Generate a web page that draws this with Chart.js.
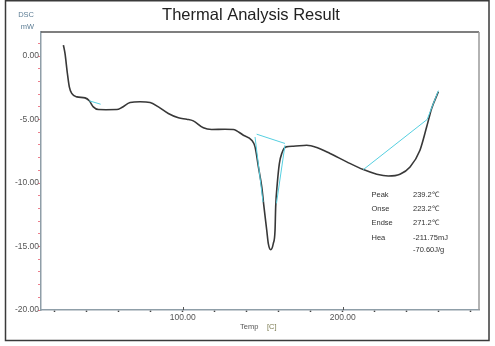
<!DOCTYPE html>
<html><head><meta charset="utf-8">
<script src="https://cdn.jsdelivr.net/npm/chart.js@4/dist/chart.umd.min.js"></script>
<style>html,body{margin:0;padding:0;background:#fff}canvas{display:block}</style>
</head><body>
<canvas id="c" width="495" height="346"></canvas>
<script>
// ---- data ----
const temps = [25.4, 26.4, 27.9, 29.1, 30.6, 33.8, 38.9, 41.6, 44.1, 47.3, 52, 58.8, 61.9, 67.1, 73.3, 79.6, 84.8, 91, 97.3, 102.5, 106.6, 112.9, 118.1, 126.4, 131.6, 137.9, 143.1, 145.2, 147.3, 149.4, 150.8, 152.5, 153.5, 155, 156.6, 157.7, 158.1, 159.1, 160.4, 161.9, 164.6, 169.1, 177.5, 183.8, 192.1, 202.5, 212.9, 221.3, 228.5, 235.8, 242.1, 248.3, 252.5, 255.6, 259.8];
const dsc = [0.87, 0.21, -1.37, -2.42, -2.94, -3.21, -3.29, -3.52, -4.0, -4.21, -4.22, -4.21, -4.05, -3.65, -3.6, -3.65, -4.0, -4.52, -4.86, -4.97, -5.1, -5.65, -5.78, -5.76, -5.78, -6.23, -6.62, -7.15, -8.73, -10.3, -11.9, -13.7, -14.77, -15.25, -14.77, -13.72, -11.88, -10.04, -8.46, -7.67, -7.15, -7.1, -7.02, -7.2, -7.67, -8.33, -8.94, -9.3, -9.44, -9.3, -8.73, -7.41, -5.57, -4.13, -2.81];

const cyanA_T = [41.6, 48.7],           cyanA_V = [-3.52, -3.79];
const cyanB_T = [146.2, 163.9],         cyanB_V = [-6.15, -6.88];
const cyanC_T = [145.2, 150.2],         cyanC_V = [-6.37, -11.5];
const cyanD_T = [163.9, 158.6],         cyanD_V = [-7.02, -11.6];
const cyanE_T = [212.9, 252.8, 259.8],  cyanE_V = [-8.94, -4.99, -2.72];

const xTickValues = [20, 40, 60, 80, 100, 120, 140, 160, 180, 200, 220, 240, 260, 280];
const xLabelValues = [100, 200];
const yTickValues = [-20, -19, -18, -17, -16, -15, -14, -13, -12, -11, -10, -9, -8, -7, -6, -5, -4, -3, -2, -1, 0, 1];
const yLabelValues = [-20, -15, -10, -5, 0];

const resultLabels = ["Peak", "Onse", "Endse", "Hea", ""];
const resultValues = ["239.2\u2103", "223.2\u2103", "271.2\u2103", "-211.75mJ", "-70.60J/g"];

const titleText = "Thermal Analysis Result";
const yUnit = ["DSC", "mW"];
const xTitle = ["Temp", "[C]"];

const pts = (T, V) => T.map((t, i) => ({x: t, y: V[i]}));
const cyan = '#55cfe0';
const cyanSet = (T, V) => ({data: pts(T, V), borderColor: cyan, borderWidth: 1, pointRadius: 0, showLine: true, tension: 0});

const decor = {
  id: 'decor',
  afterDraw(chart) {
    const ctx = chart.ctx, a = chart.chartArea;
    const xs = chart.scales.x, ys = chart.scales.y;
    ctx.save();
    // outer frame
    ctx.strokeStyle = '#3a3a3a'; ctx.lineWidth = 1.5;
    ctx.strokeRect(5.5, 0.75, 483.5, 339.75);
    // plot top and right border
    ctx.strokeStyle = '#555'; ctx.lineWidth = 1.5;
    ctx.beginPath(); ctx.moveTo(a.left, a.top); ctx.lineTo(a.right, a.top); ctx.stroke();
    ctx.strokeStyle = '#9a9a9a'; ctx.lineWidth = 1.5;
    ctx.beginPath(); ctx.moveTo(a.right, a.top); ctx.lineTo(a.right, a.bottom); ctx.stroke();
    // major x tick bumps
    ctx.strokeStyle = '#555'; ctx.lineWidth = 1;
    xLabelValues.forEach(v => {
      const px = Math.round(xs.getPixelForValue(v)) + 0.5;
      ctx.beginPath(); ctx.moveTo(px, a.bottom); ctx.lineTo(px, a.bottom - 3); ctx.stroke();
    });
    // title
    ctx.fillStyle = '#222';
    ctx.font = '16.5px "Liberation Sans", Arial, sans-serif';
    ctx.textAlign = 'center'; ctx.textBaseline = 'middle';
    ctx.fillText(titleText, 251, 15.5);
    // y unit
    ctx.fillStyle = '#5d7d95';
    ctx.font = '7.5px "Liberation Sans", Arial, sans-serif';
    ctx.textAlign = 'right';
    ctx.fillText(yUnit[0], 34, 15);
    ctx.fillText(yUnit[1], 34, 27);
    // x title
    ctx.textAlign = 'left';
    ctx.fillStyle = '#555';
    ctx.font = '7.5px "Liberation Sans", Arial, sans-serif';
    ctx.fillText(xTitle[0], 240, 327);
    ctx.fillStyle = '#7a7a50';
    ctx.fillText(xTitle[1], 267, 327);
    // results box
    ctx.fillStyle = '#333';
    ctx.font = '7.5px "Liberation Sans", Arial, sans-serif';
    const rowY = [195, 209, 223, 237.5, 249.5];
    resultLabels.forEach((t, i) => { if (t) ctx.fillText(t, 371.5, rowY[i]); });
    resultValues.forEach((t, i) => ctx.fillText(t, 413, rowY[i]));
    ctx.restore();
  }
};

new Chart(document.getElementById('c'), {
  type: 'scatter',
  data: {
    datasets: [
      cyanSet(cyanA_T, cyanA_V),
      cyanSet(cyanB_T, cyanB_V),
      cyanSet(cyanC_T, cyanC_V),
      cyanSet(cyanD_T, cyanD_V),
      cyanSet(cyanE_T, cyanE_V),
      {data: pts(temps, dsc), borderColor: '#383838', borderWidth: 1.6, pointRadius: 0, showLine: true, cubicInterpolationMode: 'monotone'}
    ]
  },
  options: {
    responsive: false, animation: false, devicePixelRatio: 1,
    layout: {padding: {top: 32, left: 0, right: 16, bottom: 0}},
    plugins: {legend: {display: false}, tooltip: {enabled: false}, title: {display: false}},
    scales: {
      x: {
        type: 'linear', min: 11.4, max: 285.2,
        afterBuildTicks: s => { s.ticks = xTickValues.map(v => ({value: v})); },
        afterFit: s => { s.height = 36; },
        grid: {drawOnChartArea: false, drawTicks: true, tickLength: 2, tickColor: '#444', tickWidth: 1.5},
        border: {display: true, color: '#8f9ea8', width: 1.5},
        ticks: {autoSkip: false, maxRotation: 0, padding: 1, color: '#555',
          font: {size: 8.5, family: '"Liberation Sans", Arial, sans-serif'},
          callback: v => xLabelValues.includes(v) ? v.toFixed(2) : ''}
      },
      y: {
        type: 'linear', min: -20, max: 1.9,
        afterBuildTicks: s => { s.ticks = yTickValues.map(v => ({value: v})); },
        afterFit: s => { s.width = 41; },
        grid: {drawOnChartArea: false, drawTicks: true, tickLength: 3, tickColor: '#ec7f8c', tickWidth: 1},
        border: {display: true, color: '#8f9ea8', width: 1.5},
        ticks: {autoSkip: false, padding: -1, color: '#555',
          font: {size: 8.5, family: '"Liberation Sans", Arial, sans-serif'},
          callback: v => yLabelValues.includes(v) ? v.toFixed(2) : ''}
      }
    }
  },
  plugins: [decor]
});
</script>
</body></html>
